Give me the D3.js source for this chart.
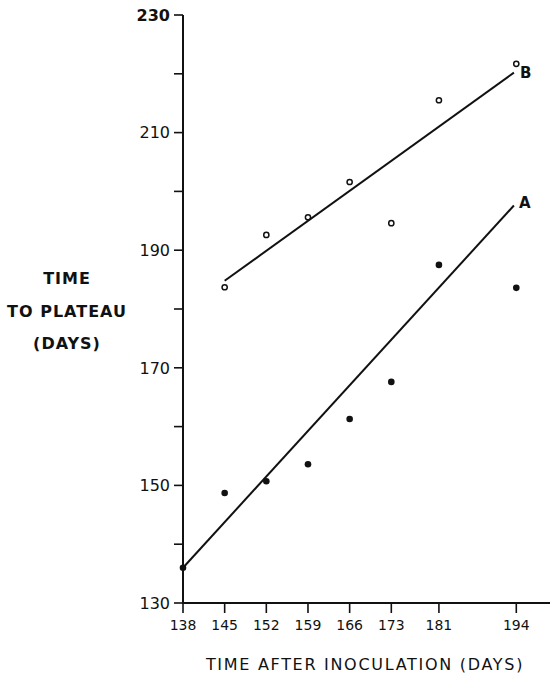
<!DOCTYPE html>
<html>
<head>
<meta charset="utf-8">
<script src="https://cdn.jsdelivr.net/npm/d3@7"></script>
<style>
  body { margin: 0; background: #fff; }
  text { font-family: "DejaVu Sans", sans-serif; fill: #111; }
</style>
</head>
<body>
<svg id="chart" width="550" height="674"></svg>
<script>
// tick labels
const xTicks = [138, 145, 152, 159, 166, 173, 181, 194];
const yTicks = [130, 150, 170, 190, 210, 230];
const yMinor = [140, 160, 180, 200, 220];

// series A (filled) and B (open)
const daysA = [138, 145, 152, 159, 166, 173, 181, 194];
const plateauA = [136, 148.7, 150.7, 153.6, 161.3, 167.6, 187.5, 183.6];
const daysB = [145, 152, 159, 166, 173, 181, 194];
const plateauB = [183.7, 192.6, 195.6, 201.6, 194.6, 215.5, 221.7];

// fitted lines
const fitA = [[138, 136], [193.6, 197.6]];
const fitB = [[145, 184.8], [193.6, 220.2]];

const svg = d3.select("#chart");

const x = d3.scaleLinear().domain([138, 200]).range([183, 552]);
const y = d3.scaleLinear().domain([130, 230]).range([603, 15]);

// y axis
svg.append("line")
  .attr("x1", x(138)).attr("x2", x(138))
  .attr("y1", y(230)).attr("y2", y(130))
  .attr("stroke", "#111").attr("stroke-width", 2);

svg.selectAll(".ytick")
  .data(yTicks.concat(yMinor))
  .join("line")
  .attr("x1", x(138) - 9).attr("x2", x(138))
  .attr("y1", d => y(d)).attr("y2", d => y(d))
  .attr("stroke", "#111").attr("stroke-width", 1.6);

svg.selectAll(".ylab")
  .data(yTicks)
  .join("text")
  .attr("x", x(138) - 13)
  .attr("y", d => y(d))
  .attr("dy", "0.36em")
  .attr("text-anchor", "end")
  .attr("font-size", 16)
  .attr("font-weight", d => d == 230 ? "bold" : "normal")
  .text(d => d);

// x axis
svg.append("line")
  .attr("x1", x(138)).attr("x2", x(200))
  .attr("y1", y(130)).attr("y2", y(130))
  .attr("stroke", "#111").attr("stroke-width", 2);

svg.selectAll(".xtick")
  .data(xTicks)
  .join("line")
  .attr("x1", d => x(d)).attr("x2", d => x(d))
  .attr("y1", y(130)).attr("y2", y(130) + 10)
  .attr("stroke", "#111").attr("stroke-width", 1.6);

svg.selectAll(".xlab")
  .data(xTicks)
  .join("text")
  .attr("x", d => x(d))
  .attr("y", y(130) + 27)
  .attr("text-anchor", "middle")
  .attr("font-size", 14)
  .text(d => d);

// axis titles
svg.append("text")
  .attr("x", 365).attr("y", 670)
  .attr("text-anchor", "middle")
  .attr("font-size", 16)
  .attr("letter-spacing", 1.7)
  .text("TIME AFTER INOCULATION (DAYS)");

const ytitle = ["TIME", "TO PLATEAU", "(DAYS)"];
svg.selectAll(".ytitle")
  .data(ytitle)
  .join("text")
  .attr("x", 67)
  .attr("y", (d, i) => 284 + i * 32.5)
  .attr("text-anchor", "middle")
  .attr("font-size", 16)
  .attr("font-weight", "bold")
  .attr("letter-spacing", 1)
  .text(d => d);

// fit lines
const line = d3.line().x(d => x(d[0])).y(d => y(d[1]));
[fitA, fitB].forEach(f => {
  svg.append("path")
    .attr("d", line(f))
    .attr("fill", "none")
    .attr("stroke", "#111")
    .attr("stroke-width", 2);
});

// points
svg.selectAll(".ptA")
  .data(daysA)
  .join("circle")
  .attr("cx", d => x(d))
  .attr("cy", (d, i) => y(plateauA[i]))
  .attr("r", 3.3)
  .attr("fill", "#111");

svg.selectAll(".ptB")
  .data(daysB)
  .join("circle")
  .attr("cx", d => x(d))
  .attr("cy", (d, i) => y(plateauB[i]))
  .attr("r", 2.6)
  .attr("fill", "none")
  .attr("stroke", "#111")
  .attr("stroke-width", 1.5);

// line labels
svg.append("text")
  .attr("x", x(fitA[1][0]) + 5).attr("y", y(fitA[1][1]) + 2)
  .attr("font-size", 15).attr("font-weight", "bold")
  .text("A");
svg.append("text")
  .attr("x", x(fitB[1][0]) + 6).attr("y", y(fitB[1][1]) + 5)
  .attr("font-size", 15).attr("font-weight", "bold")
  .text("B");
</script>
</body>
</html>
